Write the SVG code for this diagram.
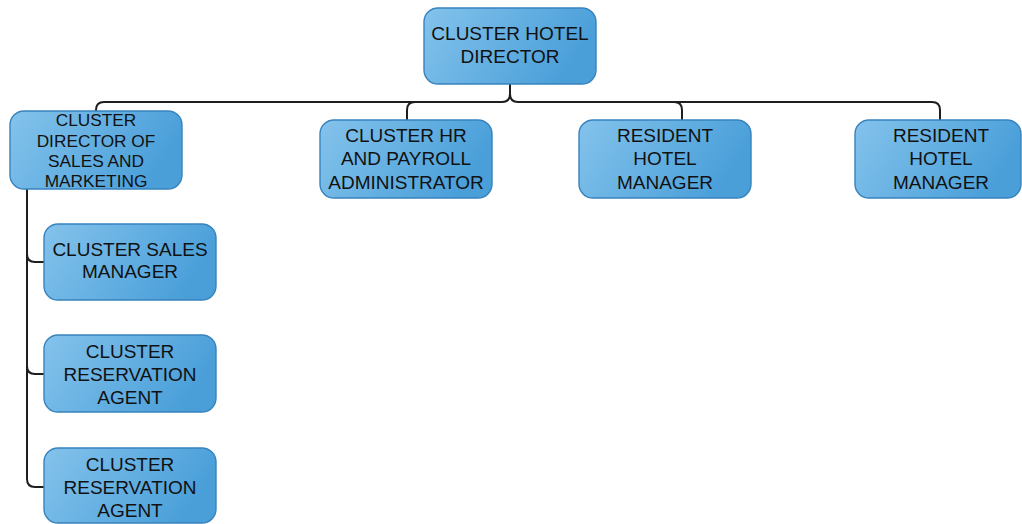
<svg xmlns="http://www.w3.org/2000/svg" width="1022" height="524" viewBox="0 0 1022 524">
  <defs>
    <linearGradient id="boxFill" x1="0" y1="0" x2="1" y2="0.3">
      <stop offset="0" stop-color="#84c3ec"/>
      <stop offset="1" stop-color="#4a9fd9"/>
    </linearGradient>
    <style>
      .box { fill: url(#boxFill); stroke: #3783bd; stroke-width: 1.4; }
      .lbl { font-family: "Liberation Sans", Arial, sans-serif; font-size: 19px; fill: #111111; text-anchor: middle; }
      .sm { font-size: 17.3px; }
      .wire { fill: none; stroke: #1e1e1e; stroke-width: 2; }
    </style>
  </defs>
  <rect width="1022" height="524" fill="#ffffff"/>

  <!-- connectors -->
  <g id="connectors">
    <path class="wire" d="M510 84 V94 Q510 102 502 102 H104 Q96 102 96 110 V111"/>
    <path class="wire" d="M510 94 Q510 102 518 102 H932 Q940 102 940 110 V120"/>
    <path class="wire" d="M407 120 V110 Q407 102 415 102"/>
    <path class="wire" d="M682 120 V110 Q682 102 674 102"/>
    <path class="wire" d="M27 189 V479 Q27 487 35 487 H44"/>
    <path class="wire" d="M27 254 Q27 262 35 262 H44"/>
    <path class="wire" d="M27 366 Q27 374 35 374 H44"/>
  </g>

  <!-- nodes -->
  <g id="cluster-hotel-director">
    <rect class="box" x="424" y="8" width="172" height="76" rx="14"/>
    <text class="lbl" x="510" y="40">CLUSTER HOTEL</text>
    <text class="lbl" x="510" y="63">DIRECTOR</text>
  </g>
  <g id="director-sales-marketing">
    <rect class="box" x="10" y="111" width="172" height="78" rx="14"/>
    <text class="lbl sm" x="96" y="126">CLUSTER</text>
    <text class="lbl sm" x="96" y="147">DIRECTOR OF</text>
    <text class="lbl sm" x="96" y="167">SALES AND</text>
    <text class="lbl sm" x="96" y="187">MARKETING</text>
  </g>
  <g id="hr-payroll-admin">
    <rect class="box" x="320" y="120" width="172" height="78" rx="14"/>
    <text class="lbl" x="406" y="142">CLUSTER HR</text>
    <text class="lbl" x="406" y="165">AND PAYROLL</text>
    <text class="lbl" x="406" y="189">ADMINISTRATOR</text>
  </g>
  <g id="resident-hotel-manager-1">
    <rect class="box" x="579" y="120" width="172" height="78" rx="14"/>
    <text class="lbl" x="665" y="142">RESIDENT</text>
    <text class="lbl" x="665" y="165">HOTEL</text>
    <text class="lbl" x="665" y="189">MANAGER</text>
  </g>
  <g id="resident-hotel-manager-2">
    <rect class="box" x="855" y="120" width="166" height="78" rx="14"/>
    <text class="lbl" x="941" y="142">RESIDENT</text>
    <text class="lbl" x="941" y="165">HOTEL</text>
    <text class="lbl" x="941" y="189">MANAGER</text>
  </g>
  <g id="sales-manager">
    <rect class="box" x="44" y="224" width="172" height="76" rx="14"/>
    <text class="lbl" x="130" y="256">CLUSTER SALES</text>
    <text class="lbl" x="130" y="278">MANAGER</text>
  </g>
  <g id="reservation-agent-1">
    <rect class="box" x="44" y="335" width="172" height="77" rx="14"/>
    <text class="lbl" x="130" y="358">CLUSTER</text>
    <text class="lbl" x="130" y="381">RESERVATION</text>
    <text class="lbl" x="130" y="404">AGENT</text>
  </g>
  <g id="reservation-agent-2">
    <rect class="box" x="44" y="448" width="172" height="75" rx="14"/>
    <text class="lbl" x="130" y="471">CLUSTER</text>
    <text class="lbl" x="130" y="494">RESERVATION</text>
    <text class="lbl" x="130" y="517">AGENT</text>
  </g>
</svg>
